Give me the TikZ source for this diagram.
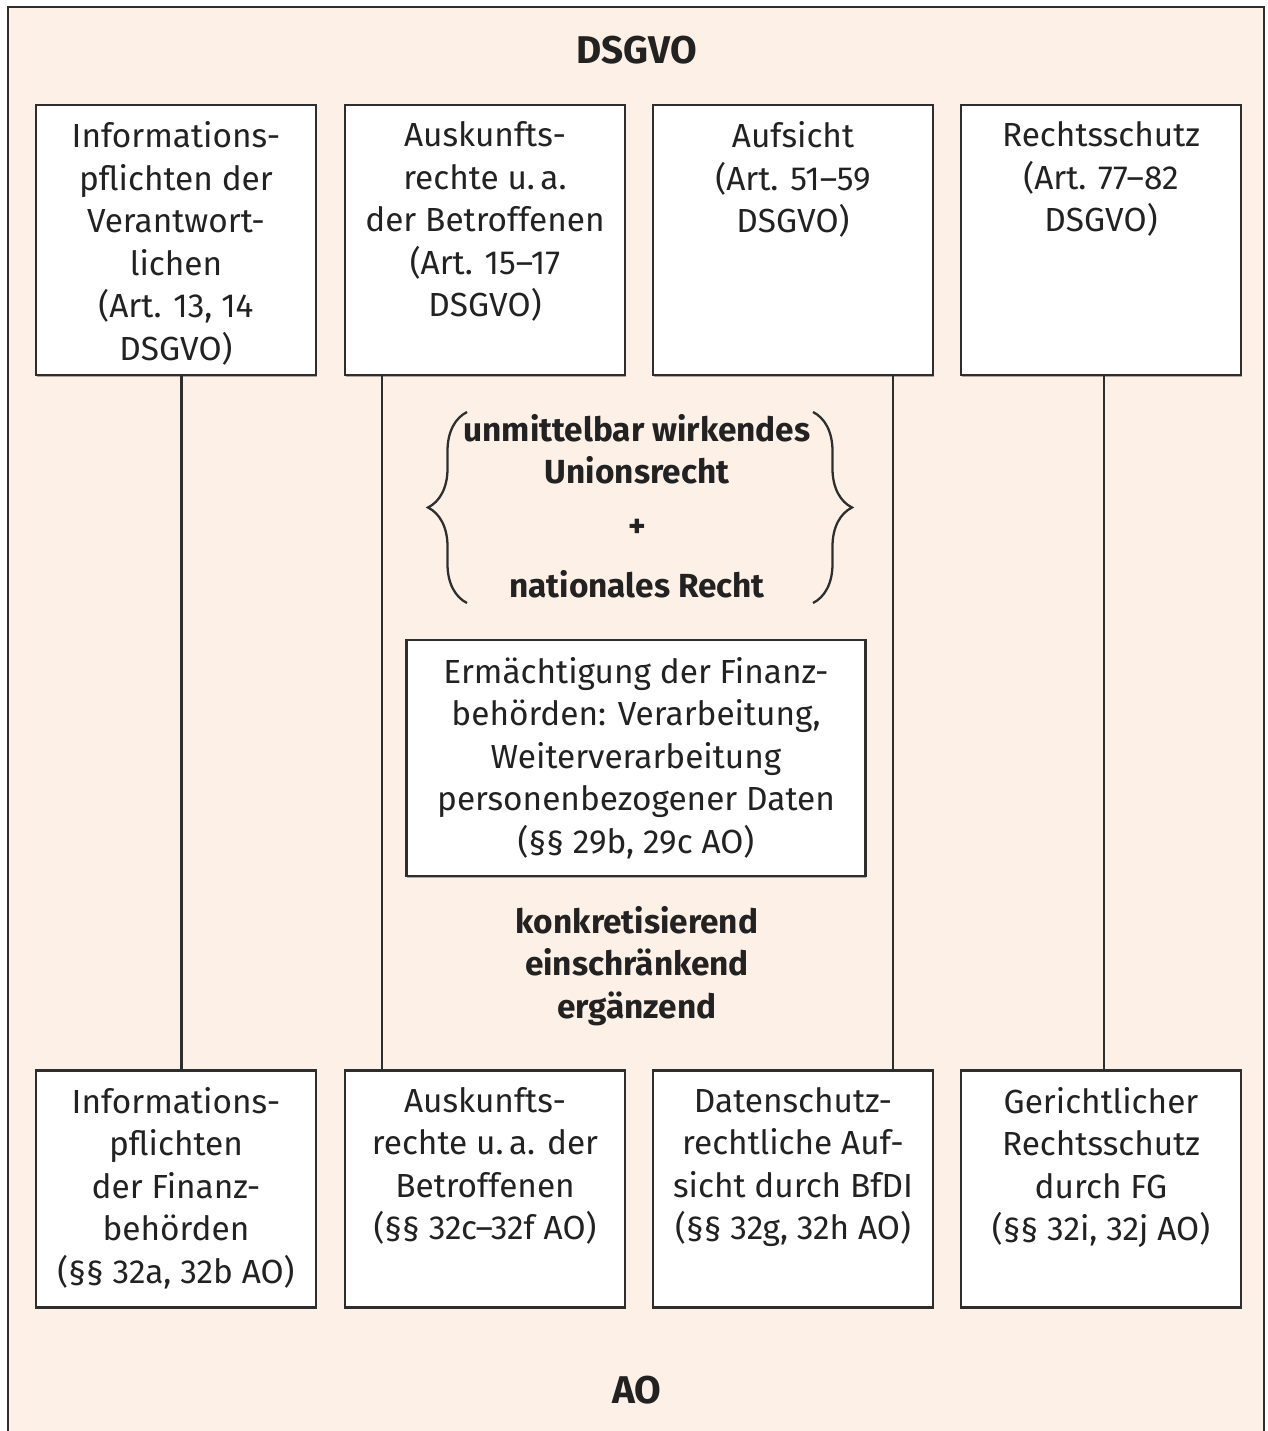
\documentclass[tikz,border=0pt]{standalone}
\usepackage{fontspec}
\setmainfont{Fira Sans}
\usepackage{tikz}
\usetikzlibrary{positioning,decorations.pathreplacing,shadows}
\definecolor{dsgvo-bg}{HTML}{FDF0E6}
\definecolor{dsgvo-line}{HTML}{2E2E2E}
\definecolor{dsgvo-text}{HTML}{222222}

\begin{document}
\begin{tikzpicture}[x=0.02cm,y=-0.02cm,
  every node/.style={text=dsgvo-text,font=\fontsize{19}{24.2}\selectfont},
  frame/.style={draw=dsgvo-line,line width=1.3pt,fill=white,inner sep=0pt,
    minimum width=5.6cm,
    drop shadow={shadow xshift=0.5pt,shadow yshift=-0.9pt,opacity=0.45,fill=black!70}},
  topframe/.style={frame,minimum height=5.4cm},
  botframe/.style={frame,minimum height=4.74cm},
  boxtext/.style={align=center,anchor=north,inner sep=0pt},
  link/.style={draw=dsgvo-line,line width=1.3pt},
  headline/.style={font=\fontsize{22}{26}\selectfont\bfseries},
  keytext/.style={align=center,font=\fontsize{19}{24.2}\selectfont\bfseries}]
  \useasboundingbox (0,0) rectangle (1268,1431);
  \draw[dsgvo-line,line width=1pt,fill=dsgvo-bg] (8,7) rectangle (1264,1470);

  \node[headline] (dsgvo) at (637,50) {DSGVO};
  \node[headline] (ao) at (637,1390) {AO};

  \node[topframe] (top1) at (176,240) {};
  \node[topframe] (top2) at (485,240) {};
  \node[topframe] (top3) at (793,240) {};
  \node[topframe] (top4) at (1101,240) {};
  \node[boxtext,below=10pt of top1.north] (top1t) {Informations-\\pflichten der\\Verantwort-\\lichen\\(Art. 13, 14\\DSGVO)};
  \node[boxtext,below=10pt of top2.north] (top2t) {Auskunfts-\\rechte u.\,a.\\der Betroffenen\\(Art. 15--17\\DSGVO)};
  \node[boxtext,below=10pt of top3.north] (top3t) {Aufsicht\\(Art. 51--59\\DSGVO)};
  \node[boxtext,below=10pt of top4.north] (top4t) {Rechtsschutz\\(Art. 77--82\\DSGVO)};

  \node[botframe] (bot1) at (176,1189) {};
  \node[botframe] (bot2) at (485,1189) {};
  \node[botframe] (bot3) at (793,1189) {};
  \node[botframe] (bot4) at (1101,1189) {};
  \node[boxtext,below=10pt of bot1.north] (bot1t) {Informations-\\pflichten\\der Finanz-\\behörden\\(§§ 32a, 32b AO)};
  \node[boxtext,below=10pt of bot2.north] (bot2t) {Auskunfts-\\rechte u.\,a. der\\Betroffenen\\(§§ 32c--32f AO)};
  \node[boxtext,below=10pt of bot3.north] (bot3t) {Datenschutz-\\rechtliche Auf-\\sicht durch BfDI\\(§§ 32g, 32h AO)};
  \node[boxtext,below=10pt of bot4.north] (bot4t) {Gerichtlicher\\Rechtsschutz\\durch FG\\(§§ 32i, 32j AO)};

  \draw[link] ([xshift=0.11cm]top1.south) -- ([xshift=0.11cm]bot1.north);
  \draw[link] ([xshift=-2.06cm]top2.south) -- ([xshift=-2.06cm]bot2.north);
  \draw[link] ([xshift=2.0cm]top3.south) -- ([xshift=2.0cm]bot3.north);
  \draw[link] ([xshift=0.06cm]top4.south) -- ([xshift=0.06cm]bot4.north);

  \node[keytext] (union) at (637,449) {unmittelbar wirkendes\\Unionsrecht};
  \node[keytext] (plus) at (637,528) {+};
  \node[keytext] (national) at (637,584) {nationales Recht};
  \draw[link,decorate,decoration={brace,amplitude=0.78cm}] (467,603) -- (467,412);
  \draw[link,decorate,decoration={brace,amplitude=0.78cm}] (813,412) -- (813,603);

  \node[frame,minimum width=9.18cm,minimum height=4.72cm,align=center] (auth) at (636,758)
    {Ermächtigung der Finanz-\\behörden: Verarbeitung,\\Weiterverarbeitung\\personenbezogener Daten\\(§§ 29b, 29c AO)};

  \node[keytext] (modes) at (637,966) {konkretisierend\\einschränkend\\ergänzend};
\end{tikzpicture}
\end{document}
